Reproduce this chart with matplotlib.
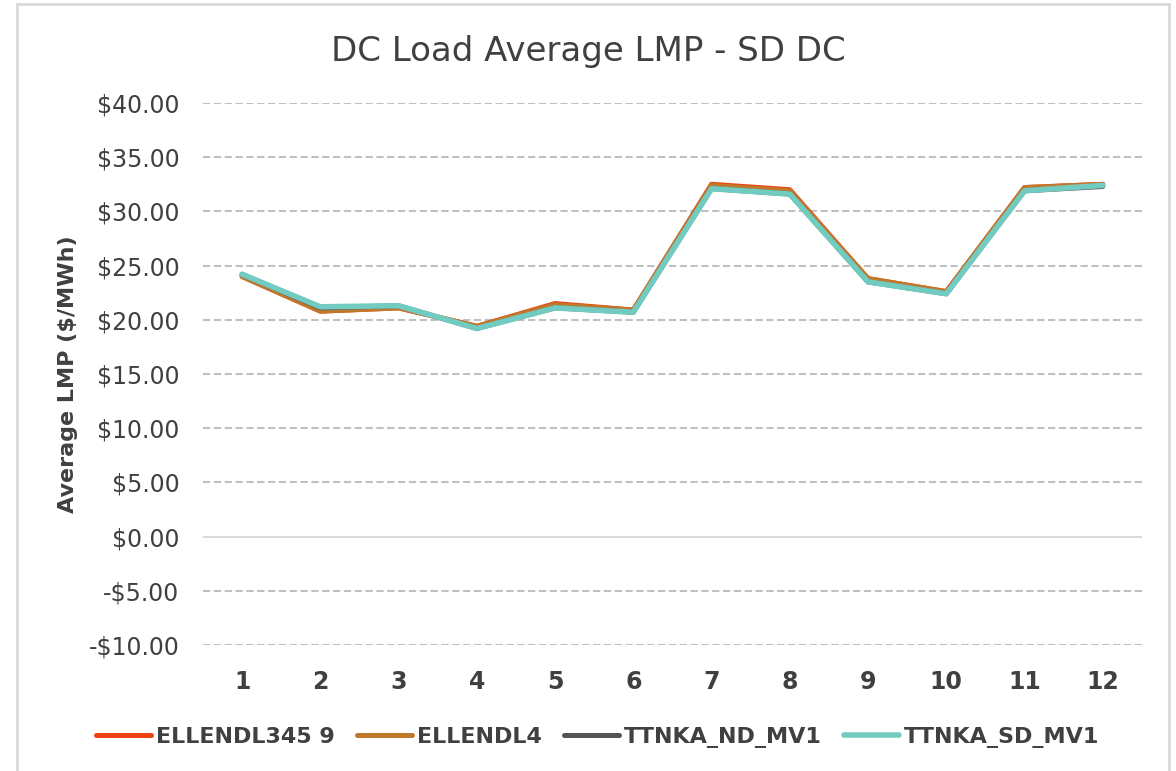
import matplotlib
matplotlib.use('Agg')
import matplotlib.pyplot as plt
from matplotlib.patches import Rectangle
from matplotlib.ticker import FuncFormatter

plt.rcParams['font.family'] = ['DejaVu Sans']

months = [1, 2, 3, 4, 5, 6, 7, 8, 9, 10, 11, 12]
ellendl345_9 = [24.0, 20.8, 21.1, 19.4, 21.5, 20.9, 32.5, 32.0, 23.8, 22.6, 32.2, 32.5]
ellendl4 = [24.0, 20.8, 21.1, 19.4, 21.4, 20.9, 32.4, 31.9, 23.8, 22.6, 32.2, 32.5]
ttnka_nd = [24.2, 21.1, 21.3, 19.2, 21.1, 20.7, 32.1, 31.6, 23.5, 22.4, 31.9, 32.3]
ttnka_sd = [24.2, 21.2, 21.3, 19.2, 21.1, 20.7, 32.1, 31.6, 23.5, 22.4, 31.9, 32.4]

names = ['ELLENDL345 9', 'ELLENDL4', 'TTNKA_ND_MV1', 'TTNKA_SD_MV1']
colors = ['#ee4010', '#c0782a', '#555555', '#72cbc1']
widths = [3.6, 3.6, 3.6, 4.0]
series = [ellendl345_9, ellendl4, ttnka_nd, ttnka_sd]

fig = plt.figure(figsize=(11.76, 7.71), dpi=100)
ax = fig.add_axes([0.1726, 0.1634, 0.7984, 0.703])

# rahmen um das diagramm
fig.patches.append(Rectangle((17 / 1176, -0.01), (1169 - 17) / 1176, 1.0 - 4 / 771 + 0.01,
                             transform=fig.transFigure, fill=False,
                             edgecolor='#d9d9d9', linewidth=2))

for vals, name, c, w in zip(series, names, colors, widths):
    ax.plot(months, vals, color=c, lw=w, label=name, solid_capstyle='round')

ax.set_xlim(0.5, 12.5)
ax.set_ylim(-10, 40)
ax.set_yticks(range(-10, 45, 5))
ax.set_xticks(months)
ax.yaxis.set_major_formatter(FuncFormatter(lambda v, p: ('-$%.2f' % -v) if v < 0 else ('$%.2f' % v)))

for y in range(-10, 45, 5):
    if y == 0:
        ax.axhline(y, color='#d9d9d9', lw=1.5, zorder=0)
    else:
        ax.axhline(y, color='#c0c0c0', lw=1.5, ls=(0, (3.5, 1.7)), zorder=0)

for s in ax.spines.values():
    s.set_visible(False)
ax.tick_params(length=0, colors='#404040')
ax.tick_params(axis='y', labelsize=17, pad=17)
ax.tick_params(axis='x', labelsize=17, pad=18)
for lab in ax.get_xticklabels():
    lab.set_fontweight('bold')

ax.set_ylabel('Average LMP ($/MWh)', fontsize=16, fontweight='bold', color='#404040')
ax.yaxis.set_label_coords(-0.133, 0.5)
fig.suptitle('DC Load Average LMP - SD DC', fontsize=24.5, color='#404040', y=0.955)

fig.legend(loc='center', bbox_to_anchor=(0.508, 0.044), ncol=4, frameon=False,
           handlelength=2.5, handletextpad=0.2, columnspacing=1.0,
           labelcolor='#404040', prop={'weight': 'bold', 'size': 16})

fig.savefig('out.png', dpi=100)
